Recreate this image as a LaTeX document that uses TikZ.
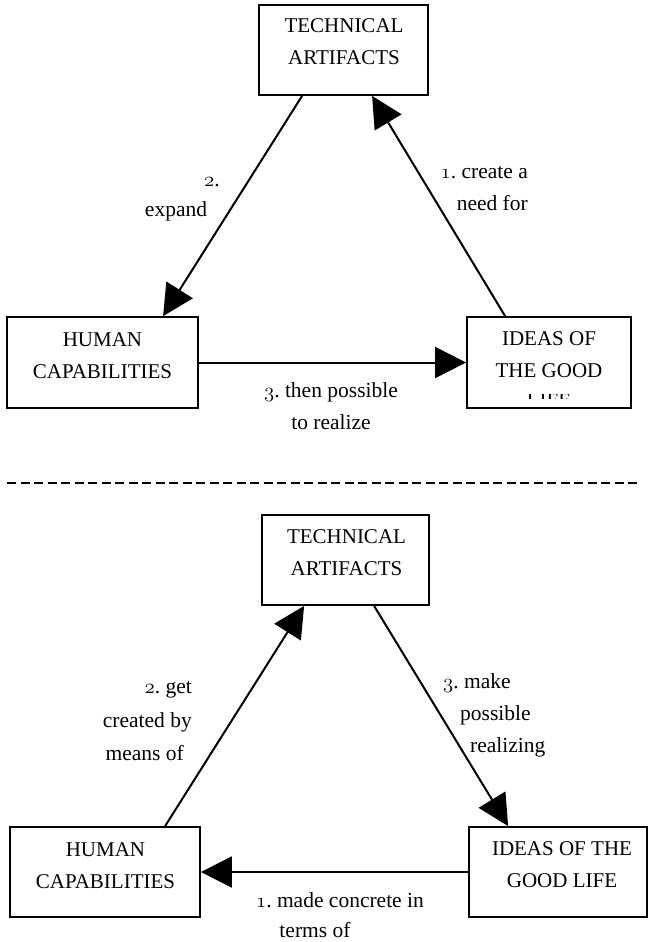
\documentclass[tikz,border=0pt]{standalone}
\usepackage{fontspec}
\setmainfont{Liberation Serif}
\usetikzlibrary{arrows.meta}
\newcommand\osnum[1]{{\usefont{OML}{cmm}{m}{it}#1}}
\begin{document}
\begin{tikzpicture}[x=1pt,y=-1pt,
  box/.style={draw, line width=1.8pt, inner sep=0pt},
  conn/.style={line width=2pt, -{Triangle[length=31pt,width=31pt]}},
  btxt/.style={font=\fontsize{21}{32}\selectfont\frenchspacing, align=center, inner sep=0pt},
  txt/.style={font=\fontsize{21.5}{32}\selectfont\frenchspacing, align=center, inner sep=0pt},
  dashline/.style={line width=2pt, dash pattern=on 9pt off 4.5pt},
]
\useasboundingbox (0,0) rectangle (648,942);

% ---------- top diagram ----------
\node[box, minimum width=169pt, minimum height=90pt] (ta1) at (343.5,50) {};
\node[box, minimum width=191pt, minimum height=91pt] (hc1) at (102.5,362.5) {};
\node[box, minimum width=164pt, minimum height=91pt] (id1) at (549,362.5) {};

\node[btxt] (ta1t) at (344,41.5) {TECHNICAL\\ARTIFACTS};
\node[btxt] (hc1t) at (102.5,355.5) {HUMAN\\CAPABILITIES};
\node[btxt] (id1t) at (549,354.5) {IDEAS OF\\THE GOOD};
\begin{scope}
  \clip (500,394) rectangle (600,398.5);
  \node[btxt] (id1life) at (549,401) {LIFE};
\end{scope}

\draw[conn] ([xshift=44pt]ta1.south west) -- ([xshift=157pt]hc1.north west);
\draw[conn] ([xshift=39pt]id1.north west) -- ([xshift=114pt]ta1.south west);
\draw[conn] (hc1.east) -- (id1.west);

\node[txt] (l2a) at (212,182) {\osnum{2}.};
\node[txt] (l2b) at (176,211) {expand};
\node[txt, align=right, anchor=east] (l1) at (528,189) {\osnum{1}. create a\\need for};
\node[txt] (l3) at (331,406) {\osnum{3}. then possible\\to realize};

% ---------- separator ----------
\coordinate (dl) at (7,483);
\coordinate (dr) at (637,483);
\draw[dashline] (dl) -- (dr);

% ---------- bottom diagram ----------
\node[box, minimum width=167pt, minimum height=90pt] (ta2) at (345.5,560) {};
\node[box, minimum width=190pt, minimum height=90pt] (hc2) at (105,872) {};
\node[box, minimum width=178pt, minimum height=90pt] (id2) at (558,872) {};

\node[btxt] (ta2t) at (346.5,552.5) {TECHNICAL\\ARTIFACTS};
\node[btxt] (hc2t) at (105.5,866) {HUMAN\\CAPABILITIES};
\node[btxt] (id2t) at (562,864.5) {IDEAS OF THE\\GOOD LIFE};

\draw[conn] ([xshift=156pt]hc2.north west) -- ([xshift=43pt]ta2.south west);
\draw[conn] ([xshift=113pt]ta2.south west) -- ([xshift=40pt]id2.north west);
\draw[conn] (id2.west) -- (hc2.east);

\node[txt, anchor=east] (m2a) at (192,690) {\osnum{2}. get};
\node[txt, anchor=east] (m2b) at (192,722) {created by};
\node[txt, anchor=east] (m2c) at (184,753) {means of};
\node[txt, anchor=west] (m3a) at (443,683) {\osnum{3}. make};
\node[txt, anchor=west] (m3b) at (460,715) {possible};
\node[txt, anchor=west] (m3c) at (470,747) {realizing};
\node[txt] (m1a) at (340,900) {\osnum{1}. made concrete in};
\node[txt] (m1b) at (315,930) {terms of};
\end{tikzpicture}
\end{document}
